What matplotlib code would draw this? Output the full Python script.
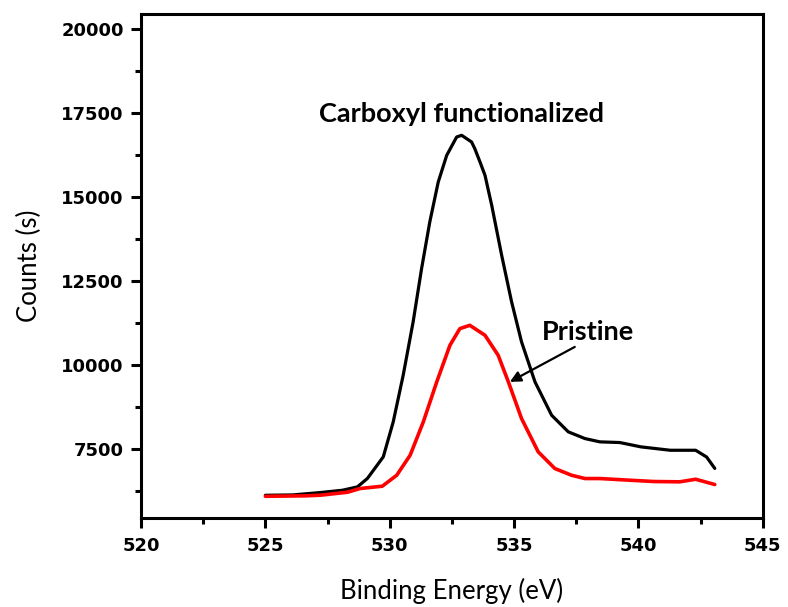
import matplotlib
matplotlib.use("Agg")
import matplotlib.pyplot as plt
from matplotlib.ticker import MultipleLocator

# Carboxyl functionalized (black)
carboxyl_x = [525.0, 526.1, 527.2, 528.1, 528.7, 529.1, 529.4, 529.74, 530.14, 530.54,
              530.94, 531.28, 531.61, 531.95, 532.29, 532.69, 532.89, 533.29, 533.42,
              533.63, 533.83, 534.1, 534.5, 534.9, 535.3, 535.84, 536.51, 537.18,
              537.85, 538.45, 539.25, 540.1, 541.28, 542.3, 542.74, 543.07]
carboxyl_y = [6130, 6140, 6210, 6280, 6380, 6630, 6930, 7274, 8315, 9702,
              11290, 12878, 14266, 15457, 16250, 16797, 16847, 16649, 16450,
              16052, 15656, 14763, 13275, 11887, 10696, 9506, 8512, 8018,
              7818, 7720, 7700, 7571, 7470, 7470, 7270, 6930]

# Pristine (red)
pristine_x = [525.0, 526.6, 527.2, 528.3, 528.8, 529.7, 530.28, 530.82, 531.35, 531.89,
              532.42, 532.82, 533.22, 533.83, 534.36, 534.77, 535.3, 535.97, 536.64,
              537.31, 537.85, 538.45, 539.66, 540.6, 541.66, 542.3, 543.07]
pristine_y = [6100, 6113, 6131, 6220, 6330, 6400, 6726, 7322, 8315, 9506,
              10595, 11092, 11190, 10893, 10298, 9506, 8414, 7422, 6926,
              6726, 6628, 6628, 6578, 6540, 6530, 6607, 6450]

x_ticks = [520, 525, 530, 535, 540, 545]
y_ticks = [7500, 10000, 12500, 15000, 17500, 20000]

fig = plt.figure(figsize=(7.88, 6.07), dpi=100)
ax = fig.add_axes([0.179, 0.147, 0.789, 0.830])

ax.plot(carboxyl_x, carboxyl_y, color="black", linewidth=2.3,
        solid_joinstyle="round", solid_capstyle="round")
ax.plot(pristine_x, pristine_y, color="#ff0000", linewidth=2.6,
        solid_joinstyle="round", solid_capstyle="round")

ax.set_xlim(520, 545)
ax.set_ylim(5460, 20460)
ax.set_xticks(x_ticks)
ax.set_yticks(y_ticks)
ax.xaxis.set_minor_locator(MultipleLocator(2.5))
ax.yaxis.set_minor_locator(MultipleLocator(1250))

# Spines and ticks
for side in ["left", "bottom", "right", "top"]:
    ax.spines[side].set_linewidth(2.2)
ax.tick_params(which="major", direction="out", length=7.5, width=2.2,
               top=False, right=False)
ax.tick_params(which="minor", direction="out", length=4.5, width=2.2,
               top=False, right=False)
for lab in ax.get_xticklabels() + ax.get_yticklabels():
    lab.set_fontfamily("DejaVu Sans")
    lab.set_fontweight("bold")
    lab.set_fontsize(13)
ax.tick_params(axis="x", pad=6)
ax.tick_params(axis="y", pad=5)

ax.set_xlabel("Binding Energy (eV)", fontfamily="Lato", fontsize=18.5, labelpad=17)
ax.set_ylabel("Counts (s)", fontfamily="Lato", fontsize=18.5, labelpad=14)

ax.text(532.9, 17490, "Carboxyl functionalized", fontfamily="Lato",
        fontweight="bold", fontsize=19.5, ha="center", va="center")
ax.text(537.98, 11000, "Pristine", fontfamily="Lato",
        fontweight="bold", fontsize=19.5, ha="center", va="center")
ax.annotate("", xy=(534.83, 9506), xytext=(537.44, 10547),
            arrowprops=dict(arrowstyle="-|>", color="black", lw=1.6,
                            shrinkA=0, shrinkB=0, mutation_scale=16))

fig.savefig("out.png", dpi=100)
